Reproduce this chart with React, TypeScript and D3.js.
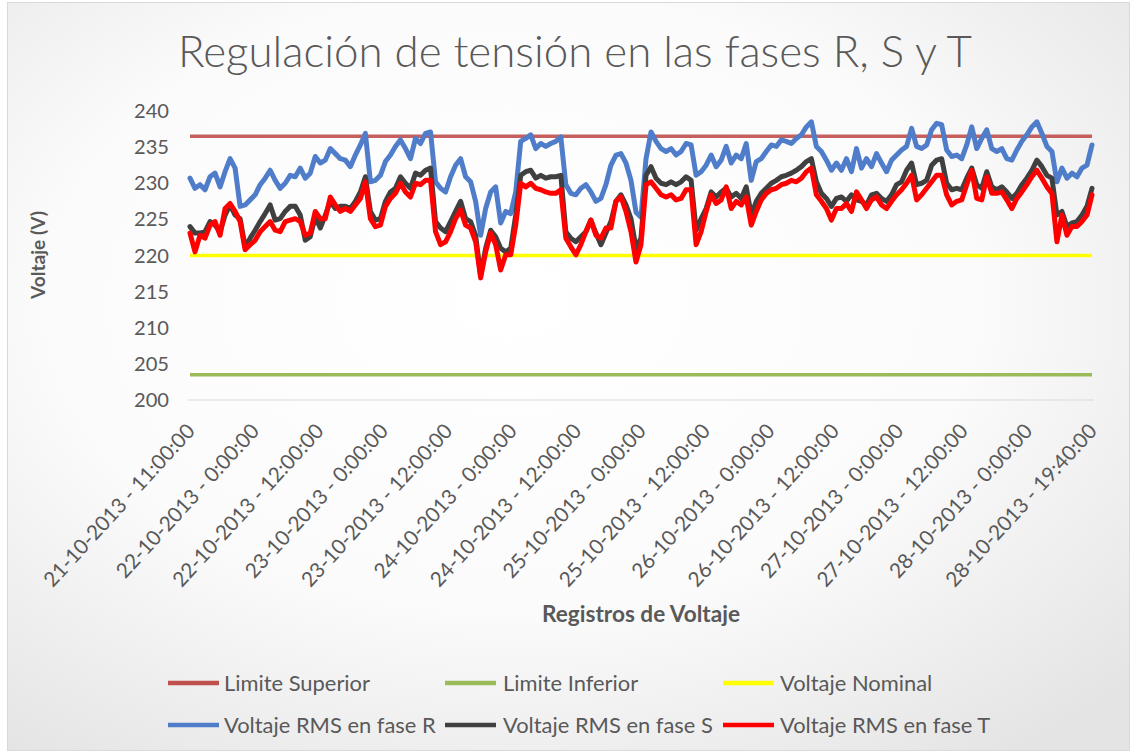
import React, { useLayoutEffect, useRef } from 'react';
import * as d3 from 'd3';

const xLabels = [
  '21-10-2013 - 11:00:00', '22-10-2013 - 0:00:00', '22-10-2013 - 12:00:00', '23-10-2013 - 0:00:00',
  '23-10-2013 - 12:00:00', '24-10-2013 - 0:00:00', '24-10-2013 - 12:00:00', '25-10-2013 - 0:00:00',
  '25-10-2013 - 12:00:00', '26-10-2013 - 0:00:00', '26-10-2013 - 12:00:00', '27-10-2013 - 0:00:00',
  '27-10-2013 - 12:00:00', '28-10-2013 - 0:00:00', '28-10-2013 - 19:40:00',
];
const yTicks = [200, 205, 210, 215, 220, 225, 230, 235, 240];

const limiteSuperior = 236.5;
const limiteInferior = 203.5;
const voltajeNominal = 220;

const faseR = [
  230.7, 229.3, 229.8, 229.1, 230.9, 231.4, 229.5, 231.6, 233.4, 232.1, 226.8, 227.0, 227.7, 228.4, 229.8, 230.7,
  231.8, 230.4, 229.3, 230.0, 231.1, 230.9, 232.1, 230.7, 231.4, 233.7, 232.8, 233.2, 234.8, 234.1, 233.4,
  233.2, 232.3, 233.9, 235.3, 236.9, 230.2, 230.4, 231.1, 233.0, 233.9, 235.1, 236.0, 234.8, 233.4, 236.2,
  235.5, 236.9, 237.1, 230.2, 229.3, 228.8, 230.9, 232.5, 233.4, 230.9, 230.2, 227.5, 222.8, 226.5, 228.8,
  229.5, 224.5, 226.1, 225.8, 228.8, 235.8, 236.2, 236.7, 234.8, 235.5, 235.1, 235.5, 235.8, 236.4, 229.8,
  228.6, 228.4, 229.3, 229.8, 228.8, 227.5, 227.9, 229.8, 232.5, 233.9, 234.1, 232.8, 230.4, 226.0, 225.3,
  233.4, 237.1, 235.8, 234.8, 234.4, 234.8, 233.9, 234.4, 235.5, 235.3, 231.1, 231.6, 232.5, 233.9, 232.3,
  233.2, 235.1, 232.8, 233.9, 233.4, 235.5, 230.4, 233.0, 233.4, 234.4, 235.3, 235.1, 236.0, 235.8, 235.5,
  236.2, 236.7, 237.8, 238.5, 235.1, 234.4, 233.2, 231.8, 232.8, 231.8, 233.4, 231.6, 234.8, 232.1, 233.4,
  232.3, 234.1, 232.8, 231.6, 233.2, 233.9, 234.6, 235.1, 237.6, 235.1, 234.8, 235.3, 237.4, 238.3, 238.1,
  234.6, 233.7, 233.9, 233.4, 235.3, 237.8, 234.8, 236.2, 237.4, 234.8, 234.4, 234.8, 233.4, 233.2, 234.6,
  235.8, 236.7, 237.8, 238.5, 236.9, 235.1, 234.4, 230.2, 232.1, 230.7, 231.4, 230.9, 232.1, 232.5, 235.3,
];

const faseS = [
  224.0, 223.1, 223.1, 223.3, 224.7, 224.2, 223.3, 225.6, 227.0, 225.6, 225.1, 221.2, 222.4, 223.5, 224.7, 225.8,
  227.0, 224.9, 225.1, 226.1, 226.8, 226.8, 225.6, 222.1, 222.6, 225.4, 223.8, 225.6, 227.5, 226.5, 226.8,
  226.8, 226.5, 227.5, 228.8, 230.9, 226.1, 224.9, 225.1, 227.5, 228.8, 229.3, 230.9, 230.0, 229.3, 231.4,
  231.1, 231.8, 232.1, 224.7, 223.8, 223.3, 224.7, 226.1, 227.5, 225.1, 224.7, 222.8, 217.2, 221.0, 223.5,
  222.6, 221.0, 220.5, 221.0, 225.6, 231.1, 231.6, 231.8, 230.7, 231.1, 230.7, 230.9, 230.9, 231.1, 223.3,
  222.4, 221.9, 222.6, 223.3, 224.9, 223.1, 221.5, 223.1, 224.7, 227.5, 228.4, 227.0, 225.1, 221.0, 222.4,
  231.1, 232.3, 230.7, 230.0, 229.8, 230.2, 229.8, 230.2, 230.9, 230.4, 223.5, 225.1, 226.5, 228.8, 228.1,
  228.8, 229.3, 228.1, 228.6, 227.9, 229.5, 225.6, 227.5, 228.6, 229.3, 230.0, 230.4, 230.9, 231.1, 231.4,
  231.8, 232.3, 233.0, 233.4, 230.2, 228.6, 227.9, 226.8, 227.9, 228.1, 227.5, 228.4, 227.7, 227.5, 227.0,
  228.4, 228.6, 227.9, 227.5, 228.4, 229.8, 230.2, 231.8, 232.8, 229.8, 230.0, 230.4, 232.5, 233.2, 233.4,
  230.0, 229.1, 229.3, 229.1, 230.7, 232.1, 229.8, 229.3, 231.6, 229.5, 229.1, 229.5, 228.8, 227.9, 228.6,
  229.8, 230.7, 231.8, 233.2, 232.3, 231.1, 230.7, 225.6, 226.1, 224.0, 224.5, 224.7, 225.6, 226.8, 229.3,
];

const faseT = [
  223.1, 220.5, 222.8, 222.4, 224.2, 224.7, 222.8, 226.5, 227.2, 226.1, 224.7, 220.8, 221.5, 222.1, 223.3, 224.0,
  224.7, 223.5, 223.3, 224.7, 224.9, 225.1, 224.7, 222.8, 223.1, 226.1, 225.1, 225.1, 228.1, 227.0, 226.1,
  226.5, 226.1, 227.0, 227.9, 230.2, 225.1, 224.0, 224.2, 226.8, 227.9, 228.6, 230.0, 228.8, 228.1, 230.0,
  229.8, 230.4, 230.4, 223.3, 221.5, 221.9, 223.3, 225.1, 226.3, 224.2, 223.8, 221.9, 216.9, 220.5, 223.1,
  221.5, 218.0, 220.1, 220.1, 224.2, 230.0, 229.5, 230.0, 229.3, 229.1, 228.8, 228.6, 228.6, 229.1, 222.4,
  221.2, 220.1, 221.5, 223.3, 224.9, 222.8, 222.4, 223.8, 223.8, 227.5, 228.1, 226.1, 223.3, 219.1, 221.5,
  229.8, 230.2, 229.3, 228.4, 228.1, 228.4, 227.7, 227.9, 229.1, 229.1, 221.5, 223.3, 226.1, 228.4, 227.2,
  227.7, 229.5, 226.5, 227.5, 227.0, 228.1, 224.2, 226.1, 227.7, 228.6, 229.1, 229.3, 229.8, 230.0, 230.4,
  230.2, 230.7, 231.6, 232.1, 228.4, 227.5, 226.5, 224.9, 226.5, 226.5, 227.2, 226.1, 228.8, 227.7, 226.5,
  227.7, 228.1, 227.0, 226.5, 227.5, 228.4, 229.1, 230.0, 231.1, 227.7, 228.4, 229.3, 230.2, 231.1, 231.1,
  228.4, 227.0, 227.5, 227.7, 229.8, 231.8, 227.9, 227.7, 230.9, 228.6, 228.6, 228.8, 227.7, 226.5, 227.9,
  228.8, 229.8, 230.9, 231.8, 230.7, 229.5, 228.6, 221.9, 225.6, 222.8, 224.0, 224.0, 224.7, 225.6, 228.4,
];

const legendNames = [
  'Limite Superior', 'Limite Inferior', 'Voltaje Nominal',
  'Voltaje RMS en fase R', 'Voltaje RMS en fase S', 'Voltaje RMS en fase T',
];

const colors = {
  sup: '#C0504D',
  inf: '#9BBB59',
  nom: '#FFFF00',
  r: '#4F7DC9',
  s: '#404040',
  t: '#FF0000',
};
const legendColors = [colors.sup, colors.inf, colors.nom, colors.r, colors.s, colors.t];

const FONT = 'Lato, "Open Sans", sans-serif';
const TXT = '#595959';

export default function App() {
  const ref = useRef<SVGSVGElement>(null);
  const W = 1137;
  const H = 754;
  const x0 = 190;
  const x1 = 1092;

  const x = d3.scaleLinear().domain([0, faseR.length - 1]).range([x0, x1]);
  const y = d3.scaleLinear().domain([200, 240]).range([400, 111]);
  const labelX = d3.scaleLinear().domain([0, xLabels.length - 1]).range([x0, x1]);
  const line = d3.line<number>().x((_, i) => x(i)).y((d) => y(d));

  useLayoutEffect(() => {
    const fits: [string, string, number][] = [
      ['.fit-title', '#s-title', 794],
      ['.fit-ytick', '#s-ytick', 35],
      ['.fit-xtick', '#s-xtick', 212],
      ['.fit-ytitle', '#s-ytitle', 88],
      ['.fit-xtitle', '#s-xtitle', 198],
      ['.fit-legend', '#s-legend', 146],
    ];
    const run = () => {
      const svg = d3.select(ref.current);
      fits.forEach(([cls, sample, target]) => {
        const node = svg.select<SVGTextElement>(sample).node();
        if (!node) return;
        const w = node.getComputedTextLength();
        const cur = parseFloat(node.getAttribute('font-size') || '20');
        if (w > 0) svg.selectAll(cls).attr('font-size', (cur * target) / w);
      });
    };
    run();
    if ((document as any).fonts?.ready) (document as any).fonts.ready.then(run);
  }, []);

  const legendCols = [168, 445, 723];
  const legendTextX = [224, 503, 780];
  const legendRows = [683, 725];

  return (
    <svg
      ref={ref}
      width={W}
      height={H}
      style={{ position: 'absolute', left: 0, top: 0, display: 'block' }}
      fontFamily={FONT}
    >
      <defs>
        <radialGradient id="bg" cx="45%" cy="40%" r="75%">
          <stop offset="0" stopColor="#ffffff" />
          <stop offset="0.55" stopColor="#fbfbfb" />
          <stop offset="1" stopColor="#e4e4e4" />
        </radialGradient>
      </defs>
      <rect x={0} y={0} width={W} height={H} fill="#ffffff" />
      <rect x={7.5} y={2.5} width={1122} height={748} fill="url(#bg)" stroke="#d9d9d9" strokeWidth={1} />

      <text
        id="s-title"
        className="fit-title"
        x={575}
        y={52}
        dy="0.35em"
        textAnchor="middle"
        fontSize={34}
        fontWeight={300}
        fill={TXT}
      >
        Regulación de tensión en las fases R, S y T
      </text>

      {yTicks.map((t) => (
        <text
          key={t}
          id={t === 240 ? 's-ytick' : undefined}
          className="fit-ytick"
          x={169}
          y={y(t)}
          dy="0.35em"
          textAnchor="end"
          fontSize={20}
          fill={TXT}
        >
          {t}
        </text>
      ))}

      <line x1={188} x2={1094} y1={y(200)} y2={y(200)} stroke="#d9d9d9" strokeWidth={1.2} />

      <line x1={x0} x2={x1} y1={y(limiteSuperior)} y2={y(limiteSuperior)} stroke={colors.sup} strokeWidth={3.5} opacity={0.9} />
      <line x1={x0} x2={x1} y1={y(limiteInferior)} y2={y(limiteInferior)} stroke={colors.inf} strokeWidth={3.5} />
      <line x1={x0} x2={x1} y1={y(voltajeNominal)} y2={y(voltajeNominal)} stroke={colors.nom} strokeWidth={3.5} />

      <path d={line(faseR) || ''} fill="none" stroke={colors.r} strokeWidth={5} strokeLinejoin="round" strokeLinecap="round" />
      <path d={line(faseS) || ''} fill="none" stroke={colors.s} strokeWidth={5} strokeLinejoin="round" strokeLinecap="round" />
      <path d={line(faseT) || ''} fill="none" stroke={colors.t} strokeWidth={5} strokeLinejoin="round" strokeLinecap="round" />

      {xLabels.map((lab, i) => (
        <text
          key={lab}
          id={i === 0 ? 's-xtick' : undefined}
          className="fit-xtick"
          transform={`translate(${labelX(i) + 6},432) rotate(-47.5)`}
          textAnchor="end"
          fontSize={20}
          fill={TXT}
        >
          {lab}
        </text>
      ))}

      <text
        id="s-ytitle"
        className="fit-ytitle"
        transform="translate(38,255) rotate(-90)"
        dy="0.35em"
        textAnchor="middle"
        fontSize={20}
        fontWeight={700}
        fill={TXT}
      >
        Voltaje (V)
      </text>
      <text
        id="s-xtitle"
        className="fit-xtitle"
        x={641}
        y={614}
        dy="0.35em"
        textAnchor="middle"
        fontSize={20}
        fontWeight={700}
        fill={TXT}
      >
        Registros de Voltaje
      </text>

      {legendNames.map((name, i) => {
        const col = i % 3;
        const row = Math.floor(i / 3);
        const ly = legendRows[row];
        return (
          <g key={name}>
            <line
              x1={legendCols[col]}
              x2={legendCols[col] + 51}
              y1={ly}
              y2={ly}
              stroke={legendColors[i]}
              strokeWidth={4.5}
            />
            <text
              id={i === 0 ? 's-legend' : undefined}
              className="fit-legend"
              x={legendTextX[col]}
              y={ly}
              dy="0.35em"
              fontSize={20}
              fill={TXT}
            >
              {name}
            </text>
          </g>
        );
      })}
    </svg>
  );
}
